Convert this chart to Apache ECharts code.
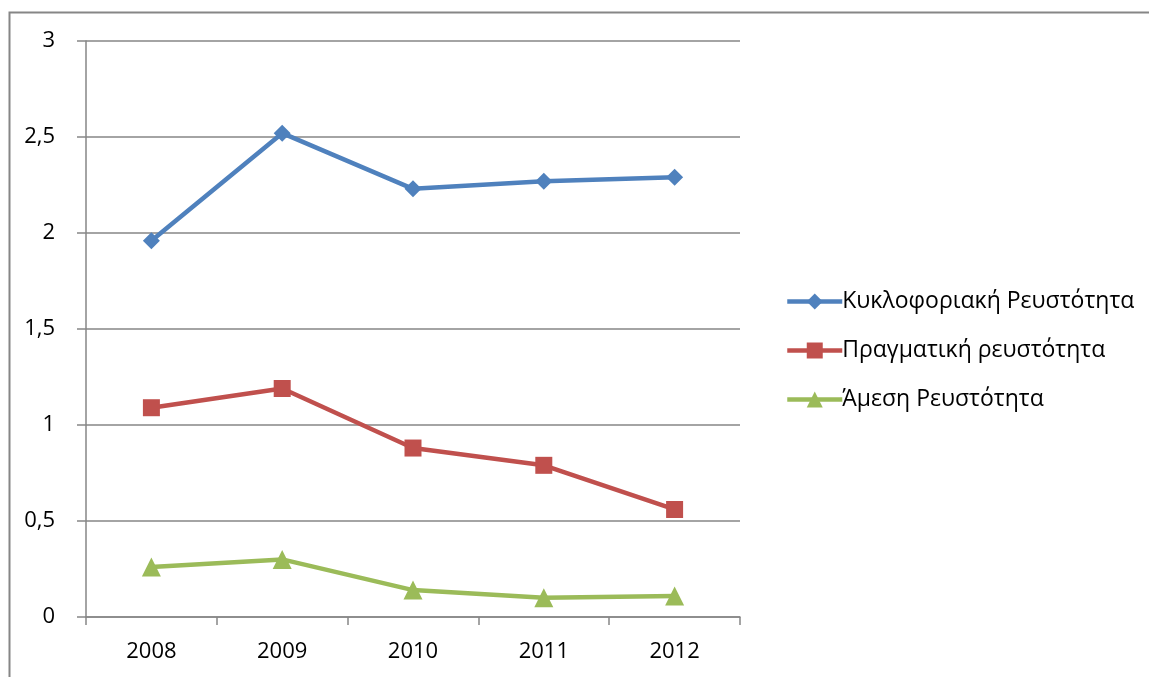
<!DOCTYPE html>
<html><head><meta charset="utf-8">
<script src="https://cdn.jsdelivr.net/npm/echarts@6/dist/echarts.min.js"></script>
<style>html,body{margin:0;padding:0;background:#fff}#c{width:1149px;height:677px}</style>
</head><body><div id="c"></div>
<script>
const categories = ['2008','2009','2010','2011','2012'];
const kykloforiaki = [1.96, 2.52, 2.23, 2.27, 2.29];
const pragmatiki = [1.09, 1.19, 0.88, 0.79, 0.56];
const amesi = [0.26, 0.30, 0.14, 0.10, 0.11];
const yTicks = ['0','0,5','1','1,5','2','2,5','3'];

const font = 'Open Sans, Noto Sans, sans-serif';
const chart = echarts.init(document.getElementById('c'), null, {renderer:'canvas'});
chart.setOption({
  animation:false,
  backgroundColor:'#fff',
  graphic:[{type:'rect', shape:{x:9.5,y:12.5,width:1160,height:700}, style:{fill:'none',stroke:'#868686',lineWidth:2}, z:-1}],
  grid:{left:86,top:41,width:654,height:576},
  xAxis:{type:'category',data:categories,boundaryGap:true,
    axisLine:{lineStyle:{color:'#868686',width:1.5}},
    axisTick:{show:true,length:8,lineStyle:{color:'#868686',width:1.5}},
    axisLabel:{color:'#000',fontSize:22,fontFamily:font,margin:24}},
  yAxis:{type:'value',min:0,max:3,interval:0.5,
    axisLine:{show:true,lineStyle:{color:'#868686',width:1.5}},
    axisTick:{show:true,length:9,lineStyle:{color:'#868686',width:1.5}},
    splitLine:{lineStyle:{color:'#868686',width:1.5}},
    axisLabel:{color:'#000',fontSize:22,fontFamily:font,margin:31,
      formatter:v=>yTicks[Math.round(v*2)]}},
  legend:{orient:'vertical',left:780,top:285,itemGap:26,itemWidth:55,itemHeight:20,
    lineStyle:{width:4.5},
    textStyle:{color:'#000',fontSize:23,fontFamily:font,padding:[0,0,0,-5]},
    data:['Κυκλοφοριακή Ρευστότητα','Πραγματική ρευστότητα','Άμεση Ρευστότητα']},
  series:[
    {name:'Κυκλοφοριακή Ρευστότητα',type:'line',data:kykloforiaki,symbol:'diamond',symbolSize:17,
      itemStyle:{color:'#4F81BD'},lineStyle:{color:'#4F81BD',width:4.5}},
    {name:'Πραγματική ρευστότητα',type:'line',data:pragmatiki,symbol:'rect',symbolSize:17,
      itemStyle:{color:'#C0504D'},lineStyle:{color:'#C0504D',width:4.5}},
    {name:'Άμεση Ρευστότητα',type:'line',data:amesi,symbol:'triangle',symbolSize:19,
      itemStyle:{color:'#9BBB59'},lineStyle:{color:'#9BBB59',width:4.5}}
  ]
});
</script></body></html>
